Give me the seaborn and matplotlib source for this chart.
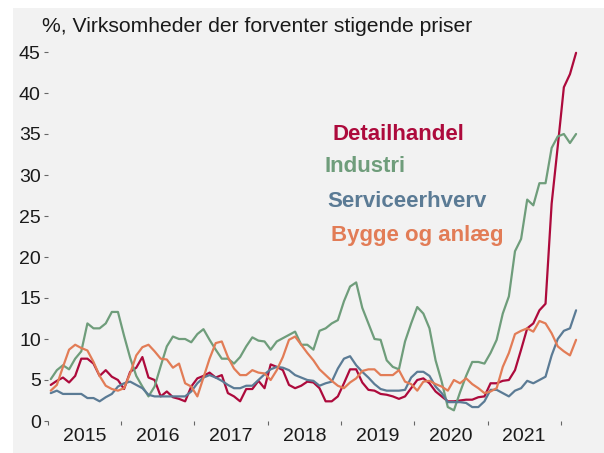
import numpy as np
import pandas as pd
import matplotlib
matplotlib.use("Agg")
import matplotlib.pyplot as plt
from matplotlib.patches import Rectangle
import seaborn as sns

# ---------------- data (monthly, Jan 2015 - Mar 2022) ----------------
months = pd.date_range("2015-01-01", "2022-03-01", freq="MS")

detailhandel = [4.4, 4.9, 5.3, 4.7, 5.5, 7.6, 7.6, 7.0, 5.5, 6.2, 5.4, 5.0, 3.9, 6.0, 6.5, 7.8, 5.3, 5.0,
                3.0, 3.6, 2.9, 2.7, 2.4, 4.2, 5.2, 5.5, 5.9, 5.3, 5.6, 3.4, 3.0, 2.4, 3.9, 3.9, 4.9,
                4.0, 6.9, 6.6, 6.2, 4.4, 4.0, 4.3, 4.8, 4.7, 4.0, 2.4, 2.4, 3.0, 4.6, 6.3, 6.3,
                4.7, 3.8, 3.7, 3.3, 3.2, 3.0, 2.7, 3.0, 4.0, 5.0, 5.2, 4.6, 3.6, 3.0, 2.4, 2.4, 2.5, 2.6,
                2.6, 2.9, 3.0, 4.6, 4.6, 4.9, 5.0, 6.2, 8.7, 11.3, 11.9, 13.5, 14.3, 26.5, 33.5, 40.7,
                42.3, 44.9]

industri = [5.1, 6.2, 6.8, 6.3, 7.6, 8.5, 11.9, 11.3, 11.3, 11.9, 13.3, 13.3, 10.4, 7.7, 5.5, 4.2, 3.0, 4.2,
            6.7, 9.1, 10.3, 10.0, 10.0, 9.6, 10.6, 11.2, 9.9, 8.7, 7.6, 7.6, 7.0, 7.8, 9.1, 10.2, 9.8,
            9.7, 8.7, 9.7, 10.1, 10.5, 10.9, 9.3, 9.3, 8.7, 11.0, 11.3, 11.9, 12.3, 14.6, 16.4, 16.9,
            13.8, 11.9, 10.0, 9.9, 7.4, 6.6, 6.3, 9.7, 11.9, 13.9, 13.1, 11.3, 7.4, 4.8, 1.7, 1.3, 3.5, 5.5,
            7.2, 7.2, 7.0, 8.3, 9.9, 13.1, 15.2, 20.7, 22.2, 27.0, 26.3, 29.0, 29.0, 33.3, 34.7, 35.0,
            33.9, 35.0]

service = [3.4, 3.7, 3.3, 3.3, 3.3, 3.3, 2.8, 2.8, 2.4, 2.9, 3.3, 4.2, 4.6, 4.8, 4.4, 4.0, 3.2, 3.0,
           3.0, 3.0, 3.0, 3.0, 3.0, 3.6, 4.6, 5.3, 5.6, 5.3, 4.9, 4.4, 4.0, 4.0, 4.3, 4.3, 5.0,
           5.7, 6.3, 6.6, 6.5, 6.2, 5.6, 5.3, 5.0, 4.9, 4.3, 4.6, 4.8, 6.4, 7.6, 7.9, 6.8,
           6.0, 5.3, 4.5, 3.9, 3.7, 3.7, 3.7, 3.8, 5.3, 6.0, 6.0, 5.5, 4.2, 3.4, 2.3, 2.3, 2.3, 2.2,
           1.7, 1.7, 2.4, 3.8, 3.8, 3.4, 3.0, 3.7, 4.0, 4.9, 4.6, 5.0, 5.4, 8.0, 10.0, 11.0,
           11.3, 13.5]

bygge = [3.7, 4.4, 6.6, 8.7, 9.3, 8.9, 8.6, 7.2, 5.5, 4.3, 3.9, 3.7, 4.0, 5.8, 8.0, 9.0, 9.3, 8.5,
         7.6, 7.5, 6.5, 7.0, 4.6, 4.2, 3.0, 5.3, 7.6, 9.5, 9.7, 7.8, 6.4, 5.6, 5.6, 6.2, 5.9,
         5.8, 5.0, 6.2, 7.8, 9.9, 10.3, 9.3, 8.3, 7.4, 6.3, 5.6, 4.9, 4.3, 4.0, 4.7, 5.2,
         6.1, 6.3, 6.3, 5.6, 5.6, 5.6, 6.2, 4.8, 4.5, 3.7, 4.8, 4.9, 4.5, 4.2, 3.7, 5.0, 4.6, 5.2,
         4.5, 4.0, 3.4, 3.6, 4.0, 6.6, 8.3, 10.6, 11.0, 11.3, 10.9, 12.2, 11.9, 10.7, 9.1, 8.5,
         8.0, 9.9]

series_names = ["Detailhandel", "Industri", "Serviceerhverv", "Bygge og anlæg"]
series_colors = ["#ad0a3c", "#6f9d7b", "#5b7b95", "#e27c56"]
year_labels = ["2015", "2016", "2017", "2018", "2019", "2020", "2021"]
y_ticks = [0, 5, 10, 15, 20, 25, 30, 35, 40, 45]
subtitle = "%, Virksomheder der forventer stigende priser"

# ---------------- build long-form table ----------------
xpos = months.year + (months.month - 0.5) / 12.0
frames = []
for name, vals in zip(series_names, [detailhandel, industri, service, bygge]):
    frames.append(pd.DataFrame({"x": xpos, "value": vals, "series": name}))
df = pd.concat(frames, ignore_index=True)

# ---------------- style ----------------
sns.set_theme(style="white")
plt.rcParams["font.family"] = ["Liberation Sans", "DejaVu Sans"]

W, H = 604, 453
fig = plt.figure(figsize=(W / 100, H / 100), dpi=100, facecolor="white")
fig.patches.append(Rectangle((13 / W, 0), 1 - 13 / W, (H - 8) / H, transform=fig.transFigure,
                             facecolor="#f2f2f2", edgecolor="none", zorder=-10))

ax_left = 47.7 / W
ax_right = 583 / W
ax_bottom = (H - 421) / H
ax_top = (H - 35.6) / H
ax = fig.add_axes([ax_left, ax_bottom, ax_right - ax_left, ax_top - ax_bottom])
ax.set_facecolor("none")

sns.lineplot(data=df, x="x", y="value", hue="series", hue_order=series_names,
             palette=dict(zip(series_names, series_colors)), linewidth=1.6,
             legend=False, ax=ax)

ax.set_xlim(2015.0, 2015.0 + (583 - 47.7) / 73.3)
ax.set_ylim(0, 47)

for s in ax.spines.values():
    s.set_visible(False)

ax.set_yticks(y_ticks)
ax.set_yticklabels([str(t) for t in y_ticks])
ax.tick_params(axis="y", which="major", length=3, width=0.8, color="#666666",
               direction="out", pad=2, labelsize=14, labelcolor="#1a1a1a", left=True)

major_x = [2015 + k for k in range(8)]
ax.set_xticks(major_x)
ax.set_xticklabels([""] * len(major_x))
ax.set_xticks([2015.5 + k for k in range(len(year_labels))], minor=True)
ax.set_xticklabels(year_labels, minor=True)
ax.tick_params(axis="x", which="major", length=3, width=0.8, color="#666666",
               direction="out", bottom=True)
ax.tick_params(axis="x", which="minor", length=0, pad=5, labelsize=14,
               labelcolor="#1a1a1a", bottom=True)
ax.set_xlabel("")
ax.set_ylabel("")
ax.grid(False)

fig.text(42 / W, 1 - 26 / H, subtitle, fontsize=15.2, color="#1a1a1a", va="center", ha="left")

label_pos = [(332, 135), (324, 167), (327, 201), (331, 236)]
for name, col, (px, py) in zip(series_names, series_colors, label_pos):
    fig.text(px / W, 1 - py / H, name, fontsize=16, fontweight="bold", color=col,
             va="center", ha="left")

fig.savefig("out.png", dpi=100, facecolor=fig.get_facecolor())
